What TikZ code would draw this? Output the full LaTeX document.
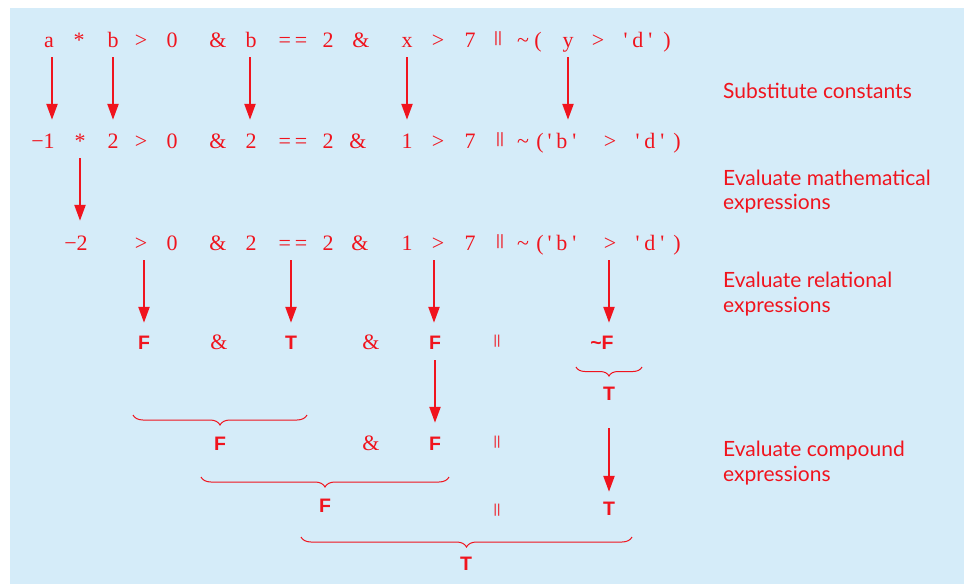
\documentclass[tikz,border=0pt]{standalone}
\usepackage{fontspec}
\setmainfont{Liberation Serif}
\newfontfamily\labfont{Lato}
\newfontfamily\sansfont{Liberation Sans}
\usetikzlibrary{arrows.meta,calc,decorations.pathreplacing}
\definecolor{myred}{RGB}{240,20,30}
\definecolor{bgblue}{RGB}{213,236,249}
\newcommand{\qq}{\textquotesingle}
\newcommand{\eqeq}{=\hspace{4pt}=}
\newcommand{\qch}[1]{\qq\hspace{5pt}#1\hspace{5pt}\qq}
\tikzset{
 ser/.style={font=\fontsize{22}{26}\selectfont, text=myred, inner sep=0pt, text height=15pt, text depth=5pt},
 bars/.style={font=\sansfont\fontsize{15}{18}\selectfont, text=myred, inner sep=0pt},
 sbars/.style={font=\sansfont\fontsize{13}{16}\selectfont, text=myred, inner sep=0pt},
 tf/.style={font=\sansfont\bfseries\fontsize{19.5}{22}\selectfont, text=myred, inner sep=0pt, text height=14pt, text depth=0pt},
 lab/.style={font=\labfont\fontsize{21}{24.5}\selectfont, text=myred, inner sep=0pt, anchor=west, align=left},
 arr/.style={draw=myred, line width=2.3pt, -{Triangle[length=16pt,width=11pt]}},
 brc/.style={draw=myred, line width=1pt, decorate, decoration={brace, mirror, amplitude=10pt}},
}
\begin{document}
\begin{tikzpicture}[x=1pt,y=-1pt]
\useasboundingbox (0,0) rectangle (964,584);
\fill[bgblue] (10,8) rectangle (964,584);
% row 1
\foreach \n/\x/\tx in {r1a/49/a, r1s/79/*, r1b/113/b, r1g/141/>, r1z/172/0, r1and/218/\&, r1bb/251/b, r1eq/293/\eqeq, r1two/328/2, r1andb/361/\&, r1x/407/x, r1gb/438/>, r1seven/470/7, r1t/523/\textasciitilde, r1p/538/{(}, r1y/568/y, r1gc/598/>, r1d/638/{\qch{d}}, r1q/667/{)}}
  \node[ser] (\n) at (\x,42.4) {\tx};
\node[bars] (r1or) at (498,39) {||};
% row 2
\foreach \n/\x/\tx in {r2m/43/−1, r2s/80/*, r2two/113/2, r2g/141/>, r2z/172/0, r2and/218/\&, r2twob/251/2, r2eq/293/\eqeq, r2twoc/328/2, r2andb/358/\&, r2one/407/1, r2gb/438/>, r2seven/470/7, r2t/523/\textasciitilde, r2p/540/{(}, r2bq/562/{\qch{b}}, r2gc/610/>, r2d/650/{\qch{d}}, r2q/677/{)}}
  \node[ser] (\n) at (\x,143.4) {\tx};
\node[bars] (r2or) at (500,140) {||};
% row 3
\foreach \n/\x/\tx in {r3m/76/−2, r3g/141/>, r3z/172/0, r3and/218/\&, r3two/251/2, r3eq/293/\eqeq, r3twob/328/2, r3andb/360/\&, r3one/407/1, r3gb/438/>, r3seven/470/7, r3t/523/\textasciitilde, r3p/540/{(}, r3bq/562/{\qch{b}}, r3gc/610/>, r3d/650/{\qch{d}}, r3q/677/{)}}
  \node[ser] (\n) at (\x,245.4) {\tx};
\node[bars] (r3or) at (500,242) {||};
% row 4
\node[tf] (r4f) at (144,342) {F};
\node[ser] (r4and) at (219,344.4) {\&};
\node[tf] (r4t) at (291,342) {T};
\node[ser] (r4andb) at (371,344.4) {\&};
\node[tf] (r4fb) at (435,342) {F};
\node[sbars] (r4or) at (497,341) {||};
\node[tf] (r4nf) at (602,342) {\textasciitilde F};
\node[tf] (r4nt) at (609,393) {T};
% row 5
\node[tf] (r5f) at (220,443) {F};
\node[ser] (r5and) at (371,445.4) {\&};
\node[tf] (r5fb) at (435,443) {F};
\node[sbars] (r5or) at (497,442) {||};
% row 6
\node[tf] (r6f) at (325,505) {F};
\node[sbars] (r6or) at (497,510) {||};
\node[tf] (r6t) at (609,508) {T};
% final
\node[tf] (r7t) at (466,563) {T};
% labels
\node[lab] (l1) at (723,91) {Substitute constants};
\node[lab] (l2) at (723,191.5) {Evaluate mathematical\\expressions};
\node[lab] (l3) at (723,294) {Evaluate relational\\expressions};
\node[lab] (l4) at (723,463) {Evaluate compound\\expressions};
% arrows row1 -> row2
\draw[arr] ($(r1a.south)+(3,4.6)$) -- ($(r1a.south |- r2m.north)+(3,-13.4)$);
\draw[arr] ($(r1b.south)+(0,4.6)$) -- ($(r1b.south |- r2two.north)+(0,-13.4)$);
\draw[arr] ($(r1bb.south)+(-1,4.6)$) -- ($(r1bb.south |- r2twob.north)+(-1,-13.4)$);
\draw[arr] ($(r1x.south)+(0,4.6)$) -- ($(r1x.south |- r2one.north)+(0,-13.4)$);
\draw[arr] ($(r1y.south)+(0,4.6)$) -- ($(r1y.south |- r2bq.north)+(0,-13.4)$);
% row2 -> row3
\draw[arr] ($(r2s.south)+(0,4.6)$) -- ($(r2s.south |- r3m.north)+(0,-14.4)$);
% row3 -> row4
\draw[arr] ($(r3g.south -| r4f.north)+(0,4.6)$) -- ($(r4f.north)+(0,-12)$);
\draw[arr] ($(r3eq.south -| r4t.north)+(0,4.6)$) -- ($(r4t.north)+(0,-12)$);
\draw[arr] ($(r3gb.south -| r4fb.north)+(-1,4.6)$) -- ($(r4fb.north)+(-1,-12)$);
\draw[arr] ($(r3gc.south)+(-1,4.6)$) -- ($(r3gc.south |- r4nf.north)+(-1,-12)$);
% row4 -> row5
\draw[arr] ($(r4fb.south)+(0,11)$) -- ($(r5fb.north)+(0,-13)$);
\draw[arr] ($(r4nt.south)+(0,28)$) -- ($(r6t.north)+(0,-9)$);
% braces
\coordinate (b0l) at (576,367); \coordinate (b0r) at (642,367);
\coordinate (b1l) at (133,415); \coordinate (b1r) at (307,415);
\coordinate (b2l) at (201,477); \coordinate (b2r) at (449,477);
\coordinate (b3l) at (301,537); \coordinate (b3r) at (632,537);
\draw[brc,decoration={amplitude=9pt}] (b0l) -- (b0r);
\draw[brc] (b1l) -- (b1r);
\draw[brc] (b2l) -- (b2r);
\draw[brc] (b3l) -- (b3r);
\end{tikzpicture}
\end{document}
